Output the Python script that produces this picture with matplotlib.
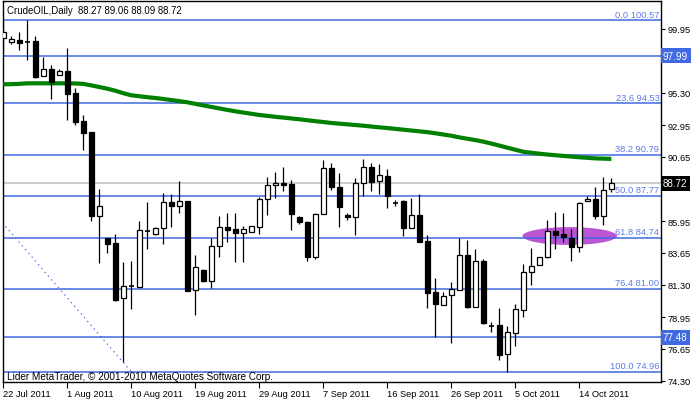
import numpy as np
import matplotlib
matplotlib.use('Agg')
import matplotlib.pyplot as plt
from matplotlib.patches import Ellipse

plt.rcParams['font.family'] = ['Liberation Sans', 'DejaVu Sans']

# daily bars (Sunday bars included, like the MT4 feed)
opens = [99.30, 99.02, 99.15, 99.03, 99.05, 96.55, 97.03, 96.57, 96.86, 95.28,
         93.22, 92.42, 86.34, 84.71, 84.33, 80.32, 81.20, 81.17, 85.23, 85.00,
         85.42, 87.31, 87.07, 87.39, 80.93, 82.38, 81.60, 84.11, 85.54, 85.37,
         85.05, 85.12, 85.49, 87.53, 88.55, 88.70, 88.65, 86.27, 85.86, 83.35,
         86.46, 89.82, 88.41, 86.41, 86.22, 88.70, 89.86, 88.84, 89.21, 87.27,
         87.39, 85.42, 86.39, 84.47, 80.75, 79.83, 80.56, 80.92, 83.48, 79.66,
         83.01, 78.30, 78.37, 76.26, 77.77, 79.49, 82.21, 82.77, 83.30, 85.25,
         85.00, 84.71, 84.03, 87.39, 87.56, 86.34, 88.27]
highs = [100.50, 99.42, 99.70, 100.60, 99.41, 97.93, 97.32, 97.03, 98.56, 95.65,
         93.68, 92.42, 88.29, 84.71, 85.01, 82.94, 83.06, 85.93, 87.31, 85.54,
         87.97, 87.92, 88.89, 87.39, 83.50, 82.45, 84.71, 86.34, 86.51, 86.51,
         85.61, 85.56, 87.73, 89.14, 89.50, 89.86, 88.94, 86.34, 85.93, 86.54,
         90.42, 90.18, 89.45, 86.51, 89.09, 90.47, 90.18, 90.11, 89.74, 87.51,
         87.48, 87.60, 87.92, 84.93, 81.80, 80.75, 81.53, 84.71, 84.57, 83.91,
         83.18, 78.57, 79.61, 78.32, 79.90, 82.82, 83.98, 83.30, 86.03, 86.58,
         86.51, 85.37, 87.31, 87.80, 88.41, 89.14, 89.06]
lows = [98.35, 98.86, 98.42, 97.69, 96.37, 96.55, 94.84, 96.57, 93.32, 92.97,
        91.13, 85.98, 82.87, 83.60, 80.10, 75.65, 79.54, 81.12, 83.91, 84.96,
        84.28, 85.54, 86.54, 80.88, 79.13, 81.48, 81.07, 83.35, 84.45, 82.94,
        82.94, 85.12, 85.00, 86.42, 87.60, 88.16, 85.30, 85.73, 83.06, 83.18,
        86.46, 88.24, 85.54, 86.05, 84.96, 87.80, 88.16, 87.92, 86.90, 87.07,
        84.88, 85.42, 84.45, 79.59, 77.52, 79.83, 77.04, 80.92, 79.61, 79.66,
        78.45, 77.84, 75.85, 74.97, 76.87, 78.98, 81.31, 82.77, 83.26, 83.91,
        84.40, 83.06, 83.67, 87.39, 86.10, 85.69, 88.09]
closes = [99.73, 99.22, 98.95, 98.99, 96.42, 97.03, 96.06, 96.86, 95.21, 93.14,
          92.37, 86.34, 87.02, 84.28, 80.20, 81.24, 81.25, 85.32, 85.25, 85.42,
          87.31, 87.07, 87.39, 80.88, 82.58, 81.60, 84.11, 85.49, 85.32, 85.05,
          85.37, 85.56, 87.56, 88.55, 88.70, 88.60, 86.46, 85.86, 83.35, 86.46,
          89.82, 88.41, 86.95, 86.22, 88.70, 89.86, 88.82, 89.31, 87.75, 87.29,
          85.42, 86.39, 84.45, 80.68, 79.90, 80.51, 81.00, 83.48, 79.66, 83.01,
          78.49, 78.32, 76.21, 77.84, 79.54, 82.21, 82.65, 83.30, 85.25, 84.96,
          84.81, 84.03, 87.24, 87.56, 86.34, 88.22, 88.72]

# green moving average
ma = [95.92, 95.93, 95.95, 95.99, 95.99, 95.99, 95.99, 95.99, 95.99, 95.98,
      95.95, 95.84, 95.72, 95.60, 95.45, 95.27, 95.12, 95.05, 94.98, 94.92,
      94.85, 94.77, 94.69, 94.61, 94.49, 94.38, 94.27, 94.16, 94.05, 93.95,
      93.86, 93.77, 93.68, 93.62, 93.55, 93.49, 93.43, 93.37, 93.30, 93.23,
      93.17, 93.10, 93.05, 93.00, 92.95, 92.90, 92.84, 92.78, 92.73, 92.67,
      92.61, 92.55, 92.49, 92.43, 92.35, 92.26, 92.17, 92.05, 91.95, 91.85,
      91.74, 91.60, 91.45, 91.30, 91.15, 91.00, 90.93, 90.86, 90.80, 90.75,
      90.70, 90.65, 90.60, 90.56, 90.52, 90.50, 90.48]

# fibonacci retracement
fib_pct = ['0.0', '23.6', '38.2', '50.0', '61.8', '76.4', '100.0']
fib_price = [100.57, 94.53, 90.79, 87.77, 84.74, 81.00, 74.96]
fib_anchor_bar = [-22, 16]
fib_anchor_price = [100.57, 74.96]

# extra horizontal lines with price tags on the axis
hlines = [97.99, 77.48]
last_price = 88.72

date_bars = [0, 8, 16, 24, 32, 40, 48, 56, 64, 72]
date_labels = ['22 Jul 2011', '1 Aug 2011', '10 Aug 2011', '19 Aug 2011', '29 Aug 2011',
               '7 Sep 2011', '16 Sep 2011', '26 Sep 2011', '5 Oct 2011', '14 Oct 2011']
price_ticks = [99.95, 97.65, 95.30, 92.95, 90.65, 88.30, 85.95, 83.65, 81.30, 78.95, 76.65, 74.30]
# the 97.65 and 88.30 labels sit under the price tags
hidden_ticks = [97.65, 88.30]

blue = '#4169E1'
fs = 6.7

fig = plt.figure(figsize=(7, 4.02), dpi=100)
ax = fig.add_axes([2.7 / 700, 1 - 383 / 402, (661 - 2.7) / 700, 381 / 402])
ax.set_xlim(-0.075, 82.21)
ax.set_ylim(74.22, 101.99)

for lv in fib_price + hlines:
    ax.axhline(lv, color=blue, lw=1.1, zorder=2)
ax.axhline(last_price, color='#C0C0C0', lw=1.1, zorder=1)

ax.plot(fib_anchor_bar, fib_anchor_price, color=blue, lw=0.9, ls=(0, (1, 3)), zorder=2)

# highlight ellipse
ax.add_patch(Ellipse((70.8, 84.86), 11.8, 1.3, facecolor='#BB55D3', edgecolor='none', zorder=1.5))

ax.plot(np.arange(len(ma)), ma, color='#008000', lw=3, solid_capstyle='butt', zorder=3)

# candles
x = np.arange(len(opens))
ax.vlines(x, lows, highs, color='black', lw=0.9, zorder=4)
for i in range(len(opens)):
    o, c = opens[i], closes[i]
    if abs(c - o) < 0.08:
        ax.hlines((o + c) / 2, i - 0.3, i + 0.3, color='black', lw=1.2, zorder=5)
        continue
    fc = 'white' if c > o else 'black'
    ax.bar(i, abs(c - o), bottom=min(o, c), width=0.62, facecolor=fc,
           edgecolor='black', lw=0.9, zorder=5)

# fib level labels
for p, v in zip(fib_pct, fib_price):
    ax.text(82.0, v + 0.12, f'{p} {v:.2f}', color='#5B7BE8', fontsize=fs,
            ha='right', va='bottom', zorder=6)

for s in ax.spines.values():
    s.set_color('black')
    s.set_linewidth(1)

ax.yaxis.tick_right()
ax.set_yticks(price_ticks)
ax.set_yticklabels(['' if t in hidden_ticks else f'{t:.2f}' for t in price_ticks])
ax.tick_params(axis='y', length=3, width=0.8, labelsize=fs, pad=2)
ax.set_xticks(date_bars)
ax.set_xticklabels(date_labels, ha='left')
ax.tick_params(axis='x', length=4, width=0.8, labelsize=fs, pad=1)

# price tags on the axis
for v, bg in [(97.99, blue), (77.48, blue), (last_price, 'black')]:
    ax.text(1.003, (v - 74.22) / (101.99 - 74.22), f'{v:.2f}', transform=ax.transAxes,
            color='white', fontsize=fs + 0.4, ha='left', va='center', zorder=7,
            bbox=dict(boxstyle='square,pad=0.25', facecolor=bg, edgecolor='none'))

fig.text(7 / 700, 1 - 11 / 402, 'CrudeOIL,Daily  88.27 89.06 88.09 88.72', fontsize=6.9,
         ha='left', va='center')
fig.text(7 / 700, 1 - 377 / 402, 'Lider MetaTrader, © 2001-2010 MetaQuotes Software Corp.',
         fontsize=7.2, ha='left', va='center')

fig.savefig('out.png', dpi=100)
